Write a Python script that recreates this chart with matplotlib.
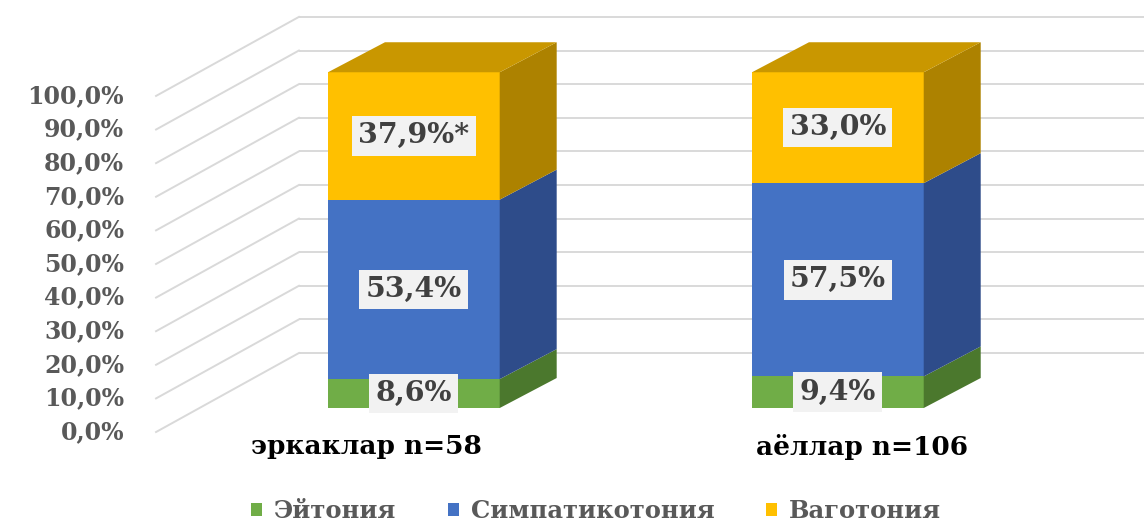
import matplotlib
matplotlib.use("Agg")
import matplotlib.pyplot as plt
from matplotlib.patches import Polygon, Patch
import numpy as np

# ---------------- data ----------------
categories = ["эркаклар n=58", "аёллар n=106"]
series_names = ["Эйтония", "Симпатикотония", "Ваготония"]
eytoniya = [8.6, 9.4]
simpatikotoniya = [53.4, 57.5]
vagotoniya = [37.9, 33.0]
label_suffix = [["", ""], ["", ""], ["*", ""]]
tick_values = [0, 10, 20, 30, 40, 50, 60, 70, 80, 90, 100]

series = [eytoniya, simpatikotoniya, vagotoniya]
front_colors = ["#70AD47", "#4472C4", "#FFC000"]
side_colors = ["#4B782D", "#2E4C8A", "#AD8200"]
top_color = "#C99700"

FONT = "DejaVu Serif"

# ---------------- layout ----------------
fig = plt.figure(figsize=(11.44, 5.26), dpi=100)
ax = fig.add_axes([0, 0, 1, 1])
ax.set_xlim(-0.976, 1.722)
ax.set_ylim(-35.1, 121.4)
ax.axis("off")

x = np.arange(len(categories))
width = 0.405
DX, DY = 0.1344, 8.93          # bar depth
FDX, FDY = -0.101, -7.14        # front axis plane offset
BDX, BDY = 0.236, 16.37         # back wall offset
left_edge = -0.507              # left edge of plot at bar plane

grid_c = "#D9D9D9"
for v in tick_values:
    ax.plot([left_edge + BDX, 1.722], [v + BDY, v + BDY], color=grid_c, lw=1.4, zorder=1,
            solid_capstyle="butt")
    ax.plot([left_edge + FDX, left_edge + BDX], [v + FDY, v + BDY], color=grid_c, lw=1.4,
            zorder=1)
    ax.text(left_edge + FDX - 0.075, v + FDY, f"{v:.1f}%".replace(".", ","),
            ha="right", va="center", fontsize=17, fontweight="bold",
            color="#595959", family=FONT)

# ---------------- bars ----------------
bottoms = np.zeros(len(categories))
for si, vals in enumerate(series):
    vals = np.array(vals)
    ax.bar(x, vals, width=width, bottom=bottoms, color=front_colors[si],
           label=series_names[si], zorder=3, linewidth=0)
    for i in range(len(categories)):
        b, t = bottoms[i], bottoms[i] + vals[i]
        xr = x[i] + width / 2
        ax.add_patch(Polygon([(xr, b), (xr + DX, b + DY), (xr + DX, t + DY), (xr, t)],
                             closed=True, fc=side_colors[si], ec="none", zorder=3))
        txt = f"{vals[i]:.1f}%".replace(".", ",") + label_suffix[si][i]
        ax.text(x[i], (b + t) / 2, txt, ha="center", va="center", fontsize=20.5,
                fontweight="bold", color="#404040", family=FONT, zorder=5,
                bbox=dict(boxstyle="square,pad=0.22", fc="#F2F2F2", ec="none"))
    bottoms = bottoms + vals

for i in range(len(categories)):
    T = bottoms[i]
    xl, xr = x[i] - width / 2, x[i] + width / 2
    ax.add_patch(Polygon([(xl, T), (xr, T), (xr + DX, T + DY), (xl + DX, T + DY)],
                         closed=True, fc=top_color, ec="none", zorder=3))

# category labels
cat_shift = [-0.111, 0.057]
for i, c in enumerate(categories):
    ax.text(x[i] + cat_shift[i], -11.5, c, ha="center", va="center", fontsize=19,
            fontweight="bold", color="black", family=FONT)

handles = [Patch(facecolor=front_colors[i], edgecolor="none") for i in range(3)]
leg = fig.legend(handles, series_names, loc="center", bbox_to_anchor=(0.521, 0.029),
                 ncol=3, frameon=False, handlelength=0.45, handleheight=0.45,
                 handletextpad=0.5, columnspacing=2.1, borderpad=0.0,
                 prop=dict(family=FONT, weight="bold", size=17.5))
for t in leg.get_texts():
    t.set_color("#595959")

fig.savefig("out.png", dpi=100)
